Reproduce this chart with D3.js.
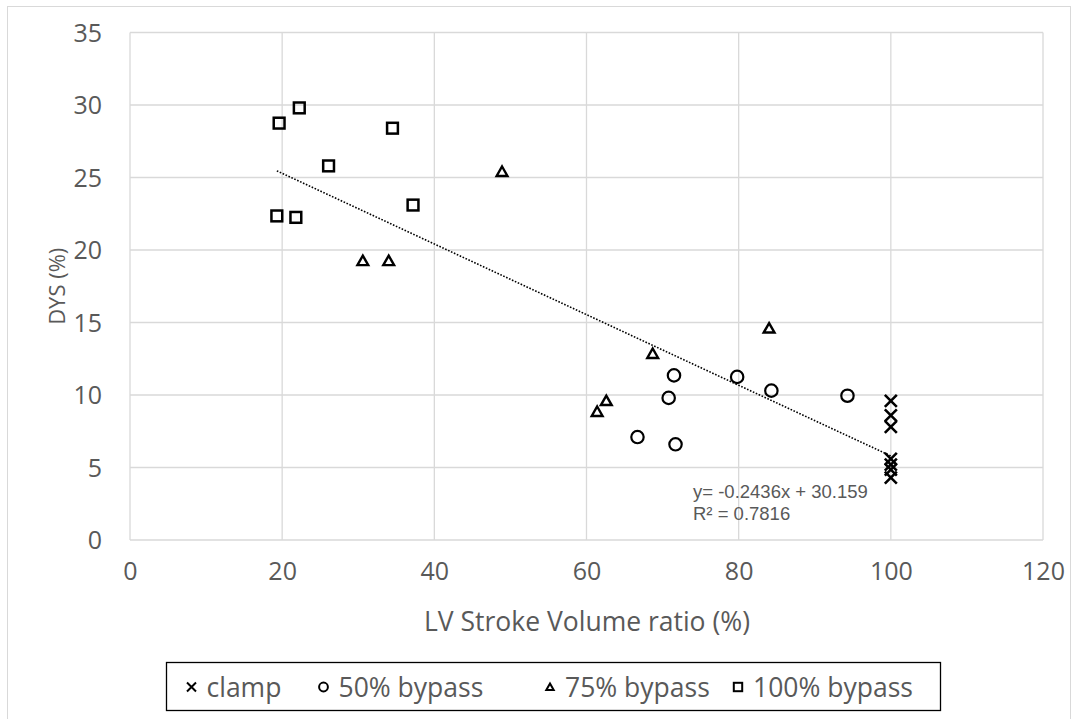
<!DOCTYPE html>
<html>
<head>
<meta charset="utf-8">
<script src="https://cdn.jsdelivr.net/npm/d3@7"></script>
<style>
  html, body { margin: 0; padding: 0; background: #fff; }
  svg { display: block; }
  text { font-family: "Open Sans", "Noto Sans", sans-serif; fill: #595959; }
</style>
</head>
<body>
<svg id="chart" width="1078" height="719"></svg>
<script>
// Series: LV stroke volume ratio (%) vs DYS (%)
const clampX = [100, 100, 100, 100, 100, 100, 100];
const clampY = [9.6, 8.6, 7.8, 5.6, 5.2, 4.85, 4.3];

const bypass50X = [71.5, 79.8, 84.3, 94.3, 70.8, 66.7, 71.7];
const bypass50Y = [11.35, 11.25, 10.3, 9.95, 9.8, 7.1, 6.6];

const bypass75X = [30.6, 34.0, 48.9, 84.0, 68.7, 62.6, 61.4];
const bypass75Y = [19.25, 19.25, 25.4, 14.6, 12.85, 9.6, 8.85];

const bypass100X = [19.6, 22.25, 34.5, 26.1, 19.3, 21.8, 37.2];
const bypass100Y = [28.75, 29.8, 28.4, 25.8, 22.35, 22.25, 23.1];

// Linear trendline fitted over all series
const trendSlope = -0.2436;
const trendIntercept = 30.159;
const trendR2 = 0.7816;

const xTicks = [0, 20, 40, 60, 80, 100, 120];
const yTicks = [0, 5, 10, 15, 20, 25, 30, 35];

const seriesNames = ["clamp", "50% bypass", "75% bypass", "100% bypass"];
const seriesShapes = ["cross", "circle", "triangle", "square"];

const series = [
  { name: seriesNames[0], shape: seriesShapes[0], xs: clampX, ys: clampY },
  { name: seriesNames[1], shape: seriesShapes[1], xs: bypass50X, ys: bypass50Y },
  { name: seriesNames[2], shape: seriesShapes[2], xs: bypass75X, ys: bypass75Y },
  { name: seriesNames[3], shape: seriesShapes[3], xs: bypass100X, ys: bypass100Y }
];

const svg = d3.select("#chart");
const plot = { left: 130, right: 1043, top: 32.5, bottom: 540 };

const x = d3.scaleLinear().domain([0, 120]).range([plot.left, plot.right]);
const y = d3.scaleLinear().domain([0, 35]).range([plot.bottom, plot.top]);

// Outer chart frame
svg.append("rect")
  .attr("x", 7.5).attr("y", 6.5).attr("width", 1063).attr("height", 730)
  .attr("fill", "none").attr("stroke", "#d9d9d9").attr("stroke-width", 1);

// Gridlines
const grid = svg.append("g");
grid.selectAll("line.h").data(yTicks).join("line")
  .attr("x1", plot.left).attr("x2", plot.right)
  .attr("y1", d => y(d)).attr("y2", d => y(d))
  .attr("stroke", "#d9d9d9").attr("stroke-width", 1.3);
grid.selectAll("line.v").data(xTicks).join("line")
  .attr("y1", plot.top).attr("y2", plot.bottom)
  .attr("x1", d => x(d)).attr("x2", d => x(d))
  .attr("stroke", "#d9d9d9").attr("stroke-width", 1.3);

// Axes (labels only, lines drawn by the grid)
const xAxis = svg.append("g")
  .attr("transform", `translate(0,${plot.bottom})`)
  .call(d3.axisBottom(x).tickValues(xTicks).tickSize(0).tickPadding(22));
const yAxis = svg.append("g")
  .attr("transform", `translate(${plot.left},0)`)
  .call(d3.axisLeft(y).tickValues(yTicks).tickSize(0).tickPadding(28));
[xAxis, yAxis].forEach(a => {
  a.select(".domain").remove();
  a.selectAll("text")
    .style("font-family", '"Open Sans", sans-serif')
    .style("font-size", "25px")
    .attr("fill", "#595959");
});
yAxis.selectAll("text").attr("dy", "0.35em");
xAxis.selectAll("text").attr("dy", "0.71em");

// Axis titles
svg.append("text")
  .attr("x", (plot.left + plot.right) / 2 + 0.5).attr("y", 631)
  .attr("text-anchor", "middle")
  .style("font-size", "26.5px")
  .text("LV Stroke Volume ratio (%)");
svg.append("text")
  .attr("transform", `translate(65,${(plot.top + plot.bottom) / 2}) rotate(-90)`)
  .attr("text-anchor", "middle")
  .style("font-size", "22px")
  .text("DYS (%)");

// Trendline across the data range
const allX = series.flatMap(s => s.xs);
const tx0 = d3.min(allX), tx1 = d3.max(allX);
svg.append("line")
  .attr("x1", x(tx0)).attr("y1", y(trendSlope * tx0 + trendIntercept))
  .attr("x2", x(tx1)).attr("y2", y(trendSlope * tx1 + trendIntercept))
  .attr("stroke", "#000").attr("stroke-width", 1.6)
  .attr("stroke-dasharray", "1.6,1.6");

// Marker drawing helper
function drawMarker(g, shape, cx, cy, s, sw) {
  if (shape === "cross") {
    g.append("path")
      .attr("d", `M${cx - s},${cy - s}L${cx + s},${cy + s}M${cx - s},${cy + s}L${cx + s},${cy - s}`)
      .attr("stroke", "#000").attr("stroke-width", sw).attr("fill", "none");
  } else if (shape === "circle") {
    g.append("circle").attr("cx", cx).attr("cy", cy).attr("r", s)
      .attr("stroke", "#000").attr("stroke-width", sw).attr("fill", "none");
  } else if (shape === "triangle") {
    const h = s * 1.75;
    g.append("path")
      .attr("d", `M${cx},${cy - h * 0.55}L${cx + s},${cy + h * 0.45}L${cx - s},${cy + h * 0.45}Z`)
      .attr("stroke", "#000").attr("stroke-width", sw).attr("fill", "none")
      .attr("stroke-linejoin", "miter");
  } else if (shape === "square") {
    g.append("rect").attr("x", cx - s).attr("y", cy - s)
      .attr("width", 2 * s).attr("height", 2 * s)
      .attr("stroke", "#000").attr("stroke-width", sw).attr("fill", "none");
  }
}

const markerSize = { cross: 6, circle: 6.2, triangle: 5.4, square: 5.4 };
const markerStroke = { cross: 2.6, circle: 2.2, triangle: 2.4, square: 2.5 };

const pts = svg.append("g");
series.forEach(s => {
  s.xs.forEach((vx, i) => {
    drawMarker(pts, s.shape, x(vx), y(s.ys[i]), markerSize[s.shape], markerStroke[s.shape]);
  });
});

// Trendline equation
const eq = svg.append("text")
  .attr("x", 693).attr("y", 498)
  .style("font-family", '"Liberation Sans", Arial, sans-serif')
  .style("font-size", "18.5px");
eq.append("tspan").attr("x", 693).attr("y", 498)
  .text(`y= ${trendSlope}x + ${trendIntercept}`);
eq.append("tspan").attr("x", 693).attr("y", 520)
  .text(`R² = ${trendR2}`);

// Legend
const legend = svg.append("g");
legend.append("rect")
  .attr("x", 166.5).attr("y", 662.5).attr("width", 774).attr("height", 48)
  .attr("fill", "#fff").attr("stroke", "#000").attr("stroke-width", 1.3);
const legendX = [191.5, 323.5, 550, 738];
const legendMarkerSize = { cross: 4.5, circle: 4.4, triangle: 3.7, square: 4.2 };
series.forEach((s, i) => {
  drawMarker(legend, s.shape, legendX[i], 687, legendMarkerSize[s.shape], 2);
  legend.append("text")
    .attr("x", legendX[i] + 15).attr("y", 697)
    .style("font-size", "26.5px")
    .text(s.name);
});
</script>
</body>
</html>
